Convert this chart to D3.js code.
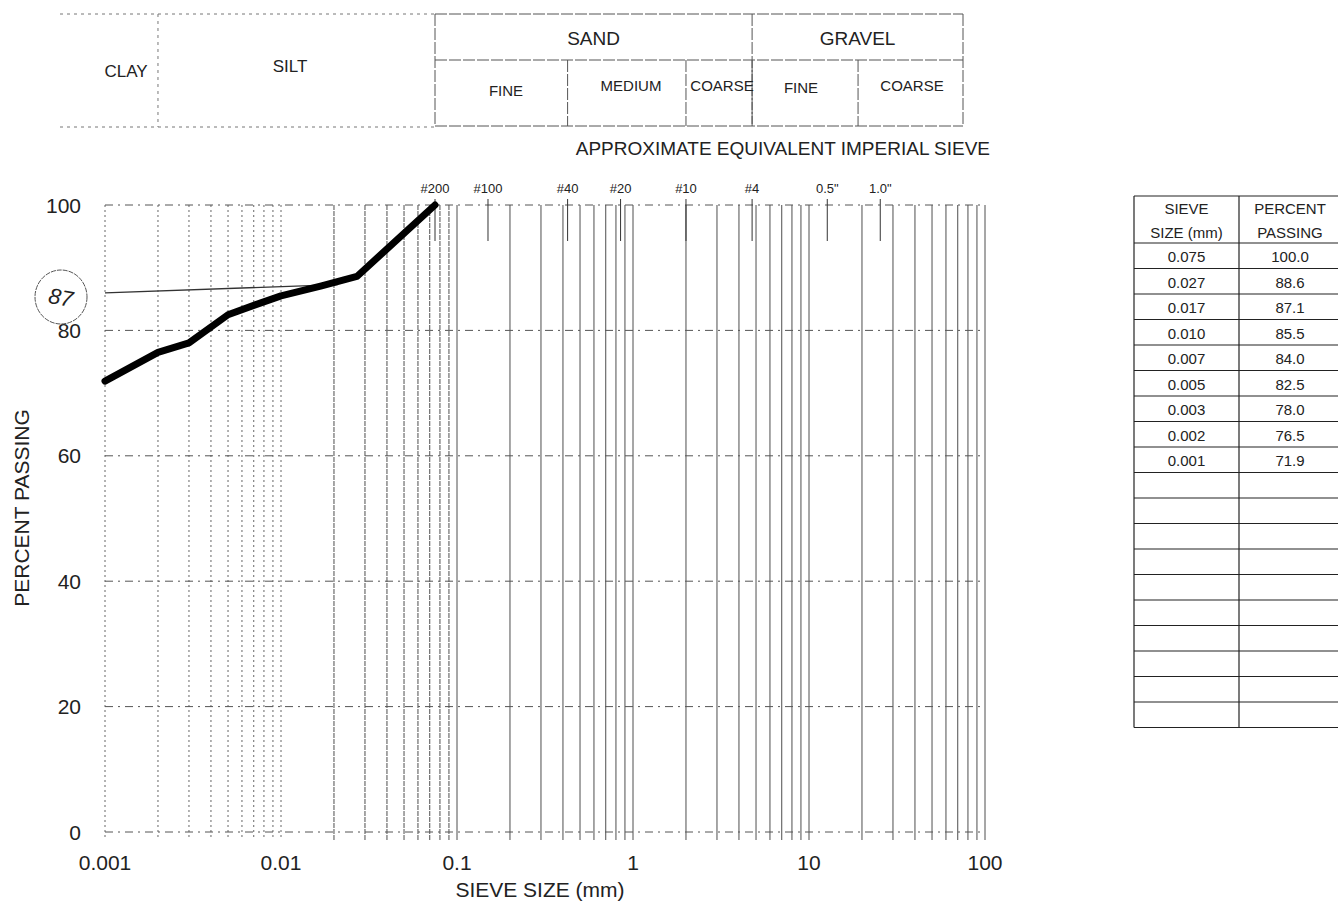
<!DOCTYPE html>
<html><head><meta charset="utf-8">
<script src="https://cdn.jsdelivr.net/npm/d3@7"></script>
<style>
body{margin:0;background:#fff;}
text{font-family:"Liberation Sans",Arial,sans-serif;fill:#222;}
</style></head>
<body>
<svg id="c" width="1338" height="914"></svg>
<script>
// ---- data ----
const sieveSizes = [0.075, 0.027, 0.017, 0.010, 0.007, 0.005, 0.003, 0.002, 0.001];
const percentPassing = [100.0, 88.6, 87.1, 85.5, 84.0, 82.5, 78.0, 76.5, 71.9];
const sieveSizeLabels = ["0.075","0.027","0.017","0.010","0.007","0.005","0.003","0.002","0.001"];
const percentLabels = ["100.0","88.6","87.1","85.5","84.0","82.5","78.0","76.5","71.9"];
const xTickValues = [0.001, 0.01, 0.1, 1, 10, 100];
const xTickLabels = ["0.001","0.01","0.1","1","10","100"];
const yTickValues = [0, 20, 40, 60, 80, 100];
const imperialSieves = [0.075, 0.15, 0.425, 0.85, 2.0, 4.75, 12.7, 25.4];
const imperialLabels = ["#200","#100","#40","#20","#10","#4","0.5\"","1.0\""];
const fineClasses = ["CLAY","SILT"];
const fineBounds = [0.002];
const coarseMain = ["SAND","GRAVEL"];
const coarseMainBounds = [0.075, 4.75, 75];
const coarseSub = ["FINE","MEDIUM","COARSE","FINE","COARSE"];
const coarseSubBounds = [0.075, 0.425, 2.0, 4.75, 19, 75];
const annotationLine = [[0.001, 86.0], [0.021, 87.3]];
const annotationValue = "87";

// ---- layout ----
const svg = d3.select("#c");
const x = d3.scaleLog().domain([0.001, 100]).range([105, 985]);
const y = d3.scaleLinear().domain([0, 100]).range([832, 205]);

// vertical log grid
const gridVals = [];
for (let e = -3; e < 2; e++) for (let m = 1; m <= 9; m++) gridVals.push(m * Math.pow(10, e));
gridVals.push(100);
svg.append("g").selectAll("line").data(gridVals).join("line")
  .attr("x1", d => x(d)).attr("x2", d => x(d))
  .attr("y1", y(100)).attr("y2", 840)
  .attr("stroke", d => d < 0.02 ? "#666" : "#3a3a3a")
  .attr("stroke-width", d => d < 0.02 ? 1 : 0.9)
  .attr("stroke-dasharray", d => d < 0.02 ? "2,3" : (d < 0.1 ? "5,1" : null));

// horizontal grid
svg.append("g").selectAll("line").data(yTickValues).join("line")
  .attr("x1", x(0.001)).attr("x2", x(100))
  .attr("y1", d => y(d)).attr("y2", d => y(d))
  .attr("stroke", "#555").attr("stroke-width", 1)
  .attr("stroke-dasharray", "8,5,2,5");

// y tick labels
svg.append("g").selectAll("text").data(yTickValues).join("text")
  .attr("x", 81).attr("y", d => y(d)).attr("dy", "0.36em")
  .attr("text-anchor", "end").attr("font-size", 21).text(d => d);

// x tick labels
svg.append("g").selectAll("text").data(xTickValues).join("text")
  .attr("x", (d, i) => x(d)).attr("y", 870)
  .attr("text-anchor", "middle").attr("font-size", 21).text((d, i) => xTickLabels[i]);

svg.append("text").attr("x", 540).attr("y", 897).attr("text-anchor", "middle")
  .attr("font-size", 21).text("SIEVE SIZE (mm)");
svg.append("text").attr("transform", "translate(29,508) rotate(-90)")
  .attr("text-anchor", "middle").attr("font-size", 21).text("PERCENT PASSING");

// imperial sieve ticks
svg.append("g").selectAll("line").data(imperialSieves).join("line")
  .attr("x1", d => x(d)).attr("x2", d => x(d))
  .attr("y1", 199).attr("y2", 241).attr("stroke", "#333").attr("stroke-width", 1);
svg.append("g").selectAll("text").data(imperialSieves).join("text")
  .attr("x", d => x(d)).attr("y", 193).attr("text-anchor", "middle")
  .attr("font-size", 13).text((d, i) => imperialLabels[i]);
svg.append("text").attr("x", 990).attr("y", 155).attr("text-anchor", "end")
  .attr("font-size", 19).text("APPROXIMATE EQUIVALENT IMPERIAL SIEVE");

// header: clay / silt box
const hTop = 14, hMid = 60, hBot = 126;
const g1 = svg.append("g").attr("stroke", "#777").attr("stroke-width", 1).attr("stroke-dasharray", "3,4");
g1.append("line").attr("x1", 60).attr("x2", x(coarseMainBounds[0])).attr("y1", hTop).attr("y2", hTop);
g1.append("line").attr("x1", 60).attr("x2", x(coarseMainBounds[0])).attr("y1", hBot + 1).attr("y2", hBot + 1);
fineBounds.forEach(b => g1.append("line").attr("x1", x(b)).attr("x2", x(b)).attr("y1", hTop).attr("y2", hBot + 1));
svg.append("text").attr("x", 126).attr("y", 77).attr("text-anchor", "middle").attr("font-size", 17).text(fineClasses[0]);
svg.append("text").attr("x", 290).attr("y", 72).attr("text-anchor", "middle").attr("font-size", 17).text(fineClasses[1]);

// header: sand / gravel box
const g2 = svg.append("g").attr("stroke", "#555").attr("stroke-width", 1).attr("stroke-dasharray", "12,2");
const L = x(coarseMainBounds[0]), R = x(coarseMainBounds[2]);
g2.append("line").attr("x1", L).attr("x2", R).attr("y1", hTop).attr("y2", hTop);
g2.append("line").attr("x1", L).attr("x2", R).attr("y1", hMid).attr("y2", hMid);
g2.append("line").attr("x1", L).attr("x2", R).attr("y1", hBot).attr("y2", hBot);
coarseMainBounds.forEach(b => g2.append("line").attr("x1", x(b)).attr("x2", x(b)).attr("y1", hTop).attr("y2", hBot));
coarseSubBounds.slice(1, -1).forEach(b => g2.append("line").attr("x1", x(b)).attr("x2", x(b)).attr("y1", hMid).attr("y2", hBot));
coarseMain.forEach((t, i) => {
  const cx = (x(coarseMainBounds[i]) + x(coarseMainBounds[i + 1])) / 2;
  svg.append("text").attr("x", cx).attr("y", 45).attr("text-anchor", "middle").attr("font-size", 19).text(t);
});
const subPos = [[506, 96], [631, 91], [722, 91], [801, 93], [912, 91]];
coarseSub.forEach((t, i) => {
  svg.append("text").attr("x", subPos[i][0]).attr("y", subPos[i][1]).attr("text-anchor", "middle")
    .attr("font-size", 15).text(t);
});

// annotation line and circled value
svg.append("path").datum(annotationLine)
  .attr("d", d3.line().x(d => x(d[0])).y(d => y(d[1])))
  .attr("stroke", "#333").attr("stroke-width", 1.3).attr("fill", "none");
svg.append("ellipse").attr("cx", 61).attr("cy", 297).attr("rx", 26).attr("ry", 27)
  .attr("fill", "none").attr("stroke", "#555").attr("stroke-width", 1).attr("stroke-dasharray", "5,1");
svg.append("text").attr("x", 61).attr("y", 305).attr("text-anchor", "middle")
  .attr("font-size", 22).attr("font-style", "italic").attr("font-family", "DejaVu Serif")
  .attr("fill", "#333").attr("transform", "rotate(10,61,297)").text(annotationValue);

// data curve
const pts = sieveSizes.map((s, i) => [s, percentPassing[i]]);
svg.append("path").datum(pts)
  .attr("d", d3.line().x(d => x(d[0])).y(d => y(d[1])))
  .attr("fill", "none").attr("stroke", "#000").attr("stroke-width", 7)
  .attr("stroke-linecap", "round").attr("stroke-linejoin", "round");

// table
const tx0 = 1134, tx1 = 1239, tx2 = 1345, tTop = 196, tHead = 243, rowH = 25.5, nRows = 19;
const tg = svg.append("g").attr("stroke", "#222").attr("stroke-width", 1.2);
tg.append("line").attr("x1", tx0).attr("x2", tx2).attr("y1", tTop).attr("y2", tTop);
for (let r = 0; r <= nRows; r++) {
  const yy = tHead + r * rowH;
  tg.append("line").attr("x1", tx0).attr("x2", tx2).attr("y1", yy).attr("y2", yy);
}
[tx0, tx1].forEach(xx => tg.append("line").attr("x1", xx).attr("x2", xx).attr("y1", tTop).attr("y2", tHead + nRows * rowH));
const cx1 = (tx0 + tx1) / 2, cx2 = 1290;
svg.append("text").attr("x", cx1).attr("y", 214).attr("text-anchor", "middle").attr("font-size", 15).text("SIEVE");
svg.append("text").attr("x", cx1).attr("y", 238).attr("text-anchor", "middle").attr("font-size", 15).text("SIZE (mm)");
svg.append("text").attr("x", cx2).attr("y", 214).attr("text-anchor", "middle").attr("font-size", 15).text("PERCENT");
svg.append("text").attr("x", cx2).attr("y", 238).attr("text-anchor", "middle").attr("font-size", 15).text("PASSING");
sieveSizeLabels.forEach((t, i) => {
  svg.append("text").attr("x", cx1).attr("y", tHead + i * rowH + 19).attr("text-anchor", "middle").attr("font-size", 15).text(t);
  svg.append("text").attr("x", cx2).attr("y", tHead + i * rowH + 19).attr("text-anchor", "middle").attr("font-size", 15).text(percentLabels[i]);
});
</script>
</body></html>
